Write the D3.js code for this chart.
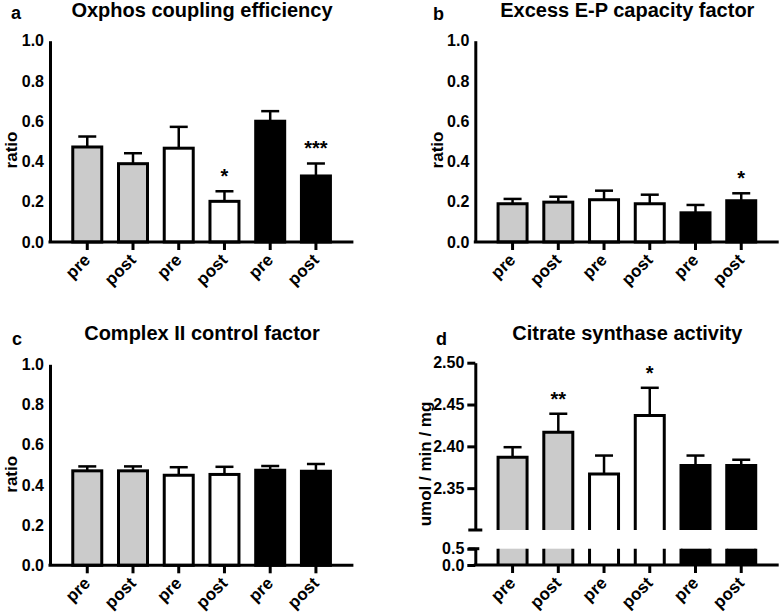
<!DOCTYPE html>
<html><head><meta charset="utf-8">
<script src="https://cdn.jsdelivr.net/npm/d3@7"></script>
<style>
body{margin:0;background:#fff}
svg{display:block}
text{font-family:"Liberation Sans",Arial,Helvetica,sans-serif;font-weight:bold;fill:#000}
</style>
</head><body>
<svg id="chart" width="784" height="612"></svg>
<script>
// ---------- data ----------
const categories = ["pre", "post", "pre", "post", "pre", "post"];
const groups = ["G1", "G1", "G2", "G2", "G3", "G3"];

const oxphosMean = [0.472, 0.389, 0.466, 0.202, 0.600, 0.328];
const oxphosSem  = [0.052, 0.052, 0.106, 0.050, 0.050, 0.062];
const oxphosStars = ["", "", "", "*", "", "***"];

const excessMean = [0.190, 0.198, 0.210, 0.190, 0.145, 0.205];
const excessSem  = [0.024, 0.027, 0.045, 0.045, 0.039, 0.037];
const excessStars = ["", "", "", "", "", "*"];

const complexMean = [0.470, 0.470, 0.448, 0.452, 0.473, 0.468];
const complexSem  = [0.022, 0.022, 0.040, 0.038, 0.021, 0.036];
const complexStars = ["", "", "", "", "", ""];

const citrateMean = [2.387, 2.417, 2.367, 2.437, 2.377, 2.377];
const citrateSem  = [0.012, 0.022, 0.022, 0.033, 0.012, 0.007];
const citrateStars = ["", "**", "", "*", "", ""];

const ratioTicks = [0, 0.2, 0.4, 0.6, 0.8, 1.0];
const citrateUpperTicks = [2.35, 2.40, 2.45, 2.50];
const citrateLowerTicks = [0, 0.5];

// ---------- drawing ----------
const svg = d3.select("#chart");
const color = d3.scaleOrdinal().domain(["G1", "G2", "G3"]).range(["#cbcbcb", "#ffffff", "#000000"]);
const AXW = 3;
const FONT = '"Liberation Sans",Arial,sans-serif';

function xScale(axisX) {
  return d3.scaleBand().domain(d3.range(categories.length))
    .range([axisX + 14.4, axisX + 14.4 + 274.4])
    .paddingInner(0.366).paddingOuter(0.183);
}

function drawXAxis(g, x, axisX, y0) {
  g.append("line").attr("x1", axisX - 1.5).attr("x2", axisX + 303.4)
    .attr("y1", y0).attr("y2", y0).attr("stroke", "#000").attr("stroke-width", AXW);
  const ax = g.append("g").attr("transform", `translate(0,${y0})`)
    .call(d3.axisBottom(x).tickFormat(i => categories[i]).tickSizeInner(8).tickSizeOuter(0));
  ax.select(".domain").remove();
  ax.selectAll(".tick line").attr("stroke", "#000").attr("stroke-width", AXW);
  ax.selectAll(".tick text").attr("x", 0).attr("y", 0).attr("dy", 0)
    .attr("text-anchor", "end")
    .attr("transform", "translate(4,19) rotate(-45)")
    .style("font-size", "17px").style("font-weight", "bold")
    .style("font-family", FONT);
}

function drawErrors(g, x, y, mean, sem) {
  const cx = i => x(i) + x.bandwidth() / 2;
  g.selectAll(null).data(mean).enter().append("line")
    .attr("x1", (d, i) => cx(i)).attr("x2", (d, i) => cx(i))
    .attr("y1", d => y(d)).attr("y2", (d, i) => y(d + sem[i]))
    .attr("stroke", "#000").attr("stroke-width", 2.5);
  g.selectAll(null).data(mean).enter().append("line")
    .attr("x1", (d, i) => cx(i) - 9).attr("x2", (d, i) => cx(i) + 9)
    .attr("y1", (d, i) => y(d + sem[i])).attr("y2", (d, i) => y(d + sem[i]))
    .attr("stroke", "#000").attr("stroke-width", 2.5);
}

function drawStars(g, x, y, mean, sem, stars) {
  g.selectAll(null).data(stars).enter().append("text")
    .attr("x", (d, i) => x(i) + x.bandwidth() / 2)
    .attr("y", (d, i) => y(mean[i] + sem[i]) - 8)
    .attr("text-anchor", "middle")
    .style("font-size", "20px")
    .text(d => d);
}

function titleAndLabels(cfg) {
  svg.append("text").attr("x", cfg.axisX + 152).attr("y", cfg.titleY)
    .attr("text-anchor", "middle").style("font-size", "20px").text(cfg.title);
  svg.append("text").attr("x", cfg.letterX).attr("y", cfg.letterY)
    .style("font-size", "18px").text(cfg.letter);
  svg.append("text").attr("transform", `translate(${cfg.ylabX},${cfg.ylabY}) rotate(-90)`)
    .attr("text-anchor", "middle").style("font-size", "17px").text(cfg.ylabel);
}

function ratioPanel(cfg) {
  const g = svg.append("g");
  const x = xScale(cfg.axisX);
  const y = d3.scaleLinear().domain([0, 1]).range([cfg.y0, cfg.y1]);
  drawErrors(g, x, y, cfg.mean, cfg.sem);
  g.selectAll(null).data(cfg.mean).enter().append("rect")
    .attr("x", (d, i) => x(i)).attr("width", x.bandwidth())
    .attr("y", d => y(d)).attr("height", d => cfg.y0 - y(d))
    .attr("fill", (d, i) => color(groups[i]))
    .attr("stroke", "#000").attr("stroke-width", AXW);
  drawStars(g, x, y, cfg.mean, cfg.sem, cfg.stars);
  const ya = g.append("g").attr("transform", `translate(${cfg.axisX},0)`)
    .call(d3.axisLeft(y).tickValues(ratioTicks).tickFormat(d3.format(".1f")).tickSize(0).tickPadding(6));
  ya.select(".domain").attr("stroke", "#000").attr("stroke-width", AXW);
  ya.selectAll(".tick text").style("font-size", "16px").style("font-weight", "bold")
    .style("font-family", FONT);
  drawXAxis(g, x, cfg.axisX, cfg.y0);
  titleAndLabels(cfg);
}

ratioPanel({axisX: 50, y0: 242, y1: 40.7, mean: oxphosMean, sem: oxphosSem, stars: oxphosStars,
  title: "Oxphos coupling efficiency", titleY: 16.5, letter: "a", letterX: 11, letterY: 19,
  ylabel: "ratio", ylabX: 16.7, ylabY: 150});
ratioPanel({axisX: 475.3, y0: 242, y1: 40.7, mean: excessMean, sem: excessSem, stars: excessStars,
  title: "Excess E-P capacity factor", titleY: 16.5, letter: "b", letterX: 433, letterY: 20,
  ylabel: "ratio", ylabX: 442.7, ylabY: 150});
ratioPanel({axisX: 50, y0: 565.3, y1: 364.3, mean: complexMean, sem: complexSem, stars: complexStars,
  title: "Complex II control factor", titleY: 339.7, letter: "c", letterX: 12, letterY: 345,
  ylabel: "ratio", ylabX: 16.7, ylabY: 474.3});

// ---------- panel d: broken axis ----------
(function () {
  const axisX = 475.3, yUpBot = 530, yUpTop = 362.7, yLowTop = 548.7, y0 = 565;
  const g = svg.append("g");
  const x = xScale(axisX);
  const yUp = d3.scaleLinear().domain([2.30, 2.50]).range([yUpBot, yUpTop]);
  const yLow = d3.scaleLinear().domain([0, 0.5]).range([y0, yLowTop]);
  drawErrors(g, x, yUp, citrateMean, citrateSem);
  const bw = x.bandwidth();
  // upper part of bars
  g.selectAll(null).data(citrateMean).enter().append("rect")
    .attr("x", (d, i) => x(i)).attr("width", bw)
    .attr("y", d => yUp(d)).attr("height", d => yUpBot - yUp(d))
    .attr("fill", (d, i) => color(groups[i]));
  g.selectAll(null).data(citrateMean).enter().append("path")
    .attr("d", (d, i) => `M${x(i)},${yUpBot}V${yUp(d)}H${x(i) + bw}V${yUpBot}`)
    .attr("fill", "none").attr("stroke", "#000").attr("stroke-width", AXW);
  // lower part of bars
  g.selectAll(null).data(citrateMean).enter().append("rect")
    .attr("x", (d, i) => x(i)).attr("width", bw)
    .attr("y", yLow(0.5)).attr("height", y0 - yLow(0.5))
    .attr("fill", (d, i) => color(groups[i]));
  g.selectAll(null).data(citrateMean).enter().append("path")
    .attr("d", (d, i) => `M${x(i)},${yLow(0.5)}V${y0}M${x(i) + bw},${yLow(0.5)}V${y0}`)
    .attr("fill", "none").attr("stroke", "#000").attr("stroke-width", AXW);
  drawStars(g, x, yUp, citrateMean, citrateSem, citrateStars);

  const styleAxis = ax => {
    ax.select(".domain").attr("stroke", "#000").attr("stroke-width", AXW);
    ax.selectAll(".tick line").attr("stroke", "#000").attr("stroke-width", AXW);
    ax.selectAll(".tick text").style("font-size", "16px").style("font-weight", "bold")
      .style("font-family", FONT);
  };
  const ua = g.append("g").attr("transform", `translate(${axisX},0)`)
    .call(d3.axisLeft(yUp).tickValues(citrateUpperTicks).tickFormat(d3.format(".2f"))
      .tickSizeInner(8).tickSizeOuter(0).tickPadding(3));
  styleAxis(ua);
  g.append("line").attr("x1", axisX - 7).attr("x2", axisX + 7).attr("y1", yUpBot).attr("y2", yUpBot)
    .attr("stroke", "#000").attr("stroke-width", AXW);
  const la = g.append("g").attr("transform", `translate(${axisX},0)`)
    .call(d3.axisLeft(yLow).tickValues(citrateLowerTicks).tickFormat(d3.format(".1f"))
      .tickSizeInner(8).tickSizeOuter(0).tickPadding(3));
  styleAxis(la);
  g.append("line").attr("x1", axisX - 7).attr("x2", axisX + 4).attr("y1", yLowTop).attr("y2", yLowTop)
    .attr("stroke", "#000").attr("stroke-width", AXW);
  drawXAxis(g, x, axisX, y0);
  titleAndLabels({axisX, title: "Citrate synthase activity", titleY: 339.5, letter: "d",
    letterX: 436, letterY: 345, ylabel: "umol / min / mg", ylabX: 431, ylabY: 464});
})();
</script>
</body></html>
